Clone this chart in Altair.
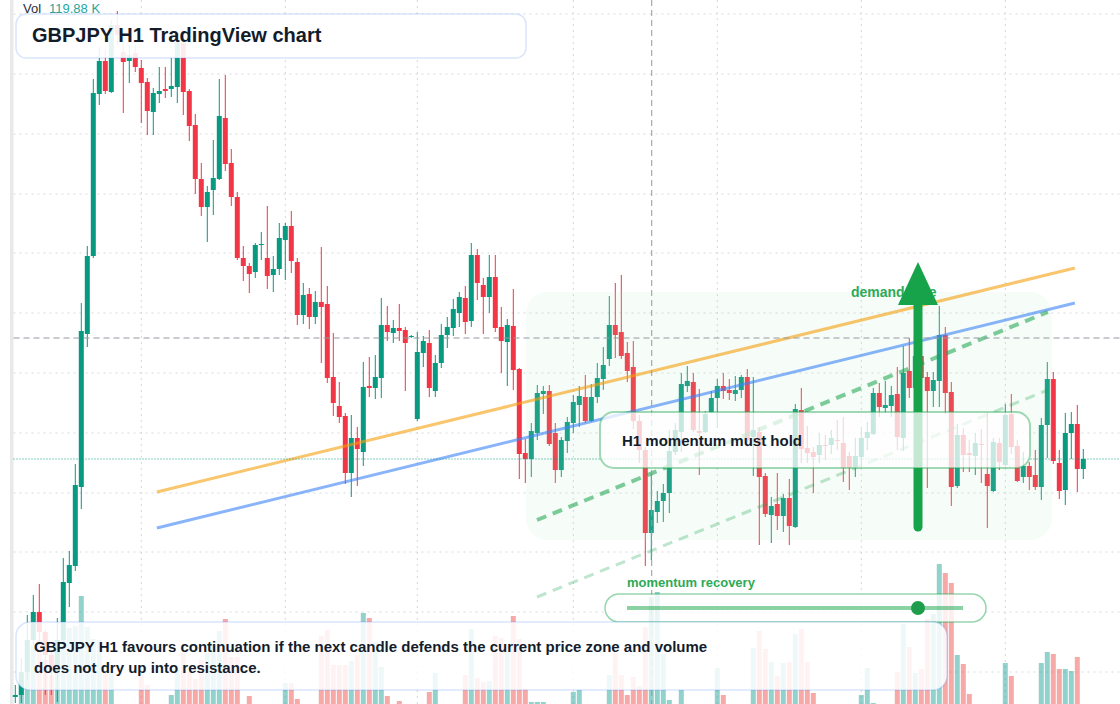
import altair as alt
import pandas as pd

# ---------------- data (GBPJPY, H1 candles) ----------------
opens = [194.03, 194.05, 194.28, 194.60, 194.88, 194.68, 194.45, 194.28, 194.60, 195.17,
         195.34, 196.13, 197.66, 198.44, 200.06, 200.39, 200.08, 200.75, 200.48, 200.39,
         200.47, 200.32, 200.18, 199.88, 200.06, 200.11, 200.11, 200.13, 200.57, 200.09,
         199.75, 199.21, 198.93, 199.10, 199.21, 199.82, 199.37, 199.03, 198.42, 198.34,
         198.28, 198.55, 198.42, 198.25, 198.31, 198.60, 198.74, 198.38, 197.85, 198.06,
         197.83, 197.98, 197.96, 197.23, 196.94, 196.84, 196.27, 196.62, 196.48, 197.14,
         197.12, 197.22, 197.75, 197.67, 197.72, 197.70, 197.63, 196.81, 197.47, 197.57,
         197.09, 197.37, 197.65, 197.72, 197.87, 198.02, 197.79, 198.45, 198.15, 198.03,
         198.23, 197.73, 197.58, 197.74, 197.31, 196.47, 196.41, 196.67, 197.06, 197.09,
         196.67, 196.30, 196.59, 196.77, 196.95, 197.03, 196.79, 197.03, 197.21, 197.41,
         197.75, 197.68, 197.47, 197.33, 196.79, 196.50, 195.67, 195.88, 195.99, 196.07,
         196.48, 196.68, 197.14, 197.18, 196.69, 196.68, 196.88, 197.02, 197.14, 197.10,
         197.06, 197.10, 197.23, 196.63, 196.68, 196.24, 195.85, 195.96, 195.84, 196.02,
         195.73, 196.90, 196.52, 196.48, 196.45, 196.55, 196.55, 196.60, 196.57, 196.44,
         196.33, 196.43, 196.62, 196.66, 197.07, 196.92, 196.94, 197.06, 196.62, 197.29,
         197.12, 197.44, 197.23, 197.09, 197.19, 197.65, 197.08, 196.14, 196.65, 196.47,
         196.44, 196.56, 196.26, 196.09, 196.57, 196.35, 196.86, 196.54, 196.23, 196.34,
         196.25, 196.13, 196.75, 197.21, 196.37, 196.10, 196.67, 196.76, 196.31]
highs = [194.15, 194.42, 194.85, 195.05, 195.16, 194.70, 194.50, 194.82, 195.42, 195.49,
         196.36, 197.97, 198.54, 200.21, 200.53, 200.50, 200.80, 200.89, 200.60, 200.55,
         200.55, 200.40, 200.22, 200.12, 200.33, 200.33, 200.42, 200.67, 200.65, 200.11,
         199.86, 199.37, 199.14, 199.60, 200.21, 200.25, 199.51, 199.08, 198.54, 198.37,
         198.57, 198.68, 198.94, 198.44, 198.77, 198.77, 198.89, 198.42, 198.17, 198.12,
         198.09, 198.53, 198.14, 197.67, 197.18, 196.87, 196.85, 196.73, 197.38, 197.43,
         197.45, 198.02, 197.94, 197.80, 197.96, 197.73, 197.65, 197.68, 197.64, 197.70,
         197.45, 197.76, 197.83, 198.01, 198.08, 198.14, 198.57, 198.51, 198.22, 198.45,
         198.45, 197.93, 197.81, 198.11, 197.32, 196.61, 196.77, 197.15, 197.14, 197.15,
         196.77, 196.63, 196.83, 197.05, 197.14, 197.25, 197.16, 197.37, 197.53, 198.04,
         198.17, 198.25, 197.58, 197.59, 196.85, 196.53, 196.27, 196.09, 196.16, 196.70,
         196.77, 197.27, 197.34, 197.27, 197.11, 196.89, 197.09, 197.21, 197.27, 197.21,
         197.24, 197.25, 197.31, 197.23, 196.73, 196.27, 196.03, 196.27, 196.06, 196.21,
         196.96, 197.12, 196.74, 196.53, 196.67, 196.65, 196.70, 196.80, 196.83, 196.48,
         196.62, 196.73, 196.78, 197.12, 197.17, 197.19, 197.14, 197.33, 197.54, 197.62,
         197.60, 197.55, 197.28, 197.28, 197.94, 197.73, 197.18, 196.76, 196.72, 196.60,
         196.67, 196.71, 196.87, 196.62, 196.62, 196.96, 197.06, 196.60, 196.48, 196.38,
         196.50, 196.82, 197.38, 197.28, 196.50, 196.87, 196.88, 196.95, 196.51]
lows = [193.97, 193.97, 194.20, 194.55, 194.55, 194.05, 194.05, 193.98, 194.55, 194.93,
        195.29, 195.91, 197.53, 198.42, 199.95, 200.06, 200.07, 200.55, 199.87, 200.17,
        200.28, 199.77, 199.65, 199.65, 199.97, 200.02, 200.03, 199.97, 199.85, 199.59,
        199.06, 198.84, 198.58, 198.85, 199.20, 199.29, 198.94, 198.40, 198.19, 198.07,
        198.22, 198.40, 198.11, 198.08, 198.25, 198.20, 198.27, 197.75, 197.76, 197.71,
        197.76, 197.37, 197.17, 196.84, 196.77, 196.16, 196.03, 196.14, 196.34, 197.03,
        197.01, 197.02, 197.59, 197.57, 197.59, 197.09, 197.62, 196.79, 197.33, 197.03,
        197.03, 197.32, 197.52, 197.64, 197.73, 197.66, 197.73, 198.00, 197.66, 197.87,
        197.68, 197.27, 197.14, 197.10, 196.21, 196.17, 196.23, 196.60, 196.86, 196.54,
        196.17, 196.23, 196.47, 196.67, 196.73, 196.77, 196.78, 196.97, 197.10, 197.34,
        197.42, 197.41, 197.18, 196.71, 196.37, 195.34, 195.40, 195.77, 195.78, 195.87,
        196.45, 196.48, 197.08, 196.68, 196.25, 196.67, 196.87, 196.72, 197.01, 197.00,
        196.99, 197.02, 196.53, 196.24, 195.55, 195.83, 195.57, 195.70, 195.68, 195.55,
        195.72, 196.37, 196.37, 196.07, 196.37, 196.40, 196.46, 196.50, 196.18, 196.10,
        196.23, 196.33, 196.50, 196.65, 196.83, 196.87, 196.83, 196.50, 196.49, 197.02,
        197.02, 196.95, 196.12, 196.93, 196.93, 196.86, 195.94, 196.12, 196.28, 196.28,
        196.25, 196.17, 195.72, 196.08, 196.30, 196.33, 196.46, 196.18, 196.17, 196.10,
        196.10, 196.00, 196.42, 196.36, 196.01, 195.95, 196.41, 196.08, 196.21]
closes = [194.05, 194.28, 194.60, 194.88, 194.68, 194.45, 194.30, 194.60, 195.18, 195.35,
          196.15, 197.69, 198.44, 200.07, 200.39, 200.09, 200.75, 200.65, 200.38, 200.45,
          200.33, 200.17, 199.89, 200.07, 200.09, 200.09, 200.14, 200.58, 200.08, 199.74,
          199.21, 198.93, 199.08, 199.22, 199.84, 199.36, 199.03, 198.42, 198.34, 198.26,
          198.55, 198.56, 198.24, 198.31, 198.62, 198.74, 198.39, 197.85, 198.05, 197.83,
          197.98, 197.93, 197.22, 196.97, 196.83, 196.27, 196.62, 196.51, 197.13, 197.12,
          197.23, 197.75, 197.68, 197.72, 197.69, 197.57, 197.64, 197.48, 197.59, 197.12,
          197.37, 197.65, 197.73, 197.91, 198.03, 197.78, 198.45, 198.17, 198.03, 198.23,
          197.72, 197.59, 197.75, 197.30, 196.46, 196.41, 196.69, 197.07, 197.09, 196.56,
          196.30, 196.60, 196.78, 196.98, 197.04, 196.79, 197.03, 197.22, 197.35, 197.75,
          197.65, 197.44, 197.29, 196.79, 196.50, 195.67, 195.90, 195.99, 196.07, 196.49,
          196.70, 197.16, 197.19, 196.70, 196.67, 196.86, 197.02, 197.14, 197.09, 197.07,
          197.10, 197.23, 196.60, 196.70, 196.23, 195.86, 195.94, 195.84, 196.02, 195.74,
          196.91, 196.51, 196.47, 196.43, 196.55, 196.54, 196.62, 196.59, 196.32, 196.32,
          196.44, 196.62, 196.68, 197.07, 196.93, 196.95, 197.05, 196.63, 197.27, 197.12,
          197.44, 197.22, 197.09, 197.20, 197.65, 197.07, 196.13, 196.65, 196.45, 196.45,
          196.57, 196.55, 196.14, 196.58, 196.38, 196.85, 196.53, 196.19, 196.34, 196.23,
          196.13, 196.75, 197.21, 196.39, 196.09, 196.67, 196.76, 196.31, 196.41]
volumes_k = [0, 24, 64, 59, 64, 44, 29, 54, 64, 76,
             78, 108, 77, 65, 64, 31, 31, 0, 0, 0,
             0, 31, 19, 0, 0, 0, 9, 34, 51, 32,
             25, 44, 51, 59, 73, 85, 47, 47, 0, 8,
             0, 0, 0, 0, 0, 21, 21, 5, 0, 0,
             0, 68, 74, 39, 39, 39, 43, 49, 91, 86,
             62, 37, 8, 0, 3, 0, 0, 0, 0, 12,
             31, 0, 0, 0, 0, 29, 75, 26, 22, 23,
             68, 66, 53, 88, 65, 15, 2, 2, 2, 0,
             0, 0, 0, 12, 14, 0, 0, 0, 0, 29,
             51, 29, 9, 27, 18, 77, 107, 112, 50, 4,
             0, 14, 0, 0, 0, 0, 0, 36, 9, 0,
             0, 0, 0, 56, 73, 55, 42, 28, 41, 42,
             70, 75, 42, 11, 0, 0, 0, 0, 0, 0,
             0, 9, 36, 1, 0, 0, 0, 32, 80, 57,
             31, 35, 85, 90, 140, 131, 121, 49, 40, 10,
             0, 0, 0, 0, 0, 41, 28, 0, 0, 0,
             0, 41, 52, 50, 35, 35, 33, 47, 0]

grid_prices = [200.86, 200.26, 199.66, 199.06, 198.47, 197.87, 197.27, 196.67,
               196.07, 195.48, 194.88, 194.28]
grid_bars = [21, 45, 67, 93, 117, 141, 165]
cross_bar = [106.07]
cross_price = [197.62]
last_price = [196.41]

orange_bar = [23.6, 176.6]
orange_price = [196.08, 198.32]
blue_bar = [23.6, 176.6]
blue_price = [195.72, 197.97]
green_bar = [86.95, 172.1]
green_price = [195.80, 197.88]
green2_bar = [86.95, 172.1]
green2_price = [195.03, 197.10]
arrow_bar = [150.45]
arrow_tail = [195.73]
arrow_neck = [198.00]
arrow_mid = [198.165]

# ---------------- frames ----------------
n = len(opens)
df = pd.DataFrame({"bar": list(range(n)), "open": opens, "high": highs,
                   "low": lows, "close": closes, "vol": volumes_k})
df["dir"] = ["up" if c >= o else "down" for o, c in zip(opens, closes)]
up = df[df["dir"] == "up"]
dn = df[df["dir"] == "down"]
vup = up[up["vol"] > 0]
vdn = dn[dn["vol"] > 0]

one = pd.DataFrame({"a": [0]})

XS = alt.Scale(domain=[-2.55, 184.117], nice=False, zero=False, padding=0)
YS = alt.Scale(domain=[193.96, 201.0], nice=False, zero=False, padding=0)
VS = alt.Scale(domain=[0, 704], nice=False, zero=False, padding=0)

UP = "#089981"
DN = "#f23645"
GREEN = "#16a34a"
FONT = "Liberation Sans"


def X(f):
    return alt.X(f"{f}:Q", scale=XS, axis=None)


def Y(f):
    return alt.Y(f"{f}:Q", scale=YS, axis=None)


def seg(bars, prices, color, width, opacity, dash=None):
    d = pd.DataFrame({"b1": [bars[0]], "b2": [bars[1]], "p1": [prices[0]], "p2": [prices[1]]})
    kw = dict(color=color, strokeWidth=width, opacity=opacity)
    if dash:
        kw["strokeDash"] = dash
    return alt.Chart(d).mark_rule(**kw).encode(
        x=X("b1"), x2="b2", y=Y("p1"), y2="p2")


def box(x1, y1, x2, y2, radius, fill, fill_op, stroke, stroke_op, sw):
    return alt.Chart(one).mark_rect(
        cornerRadius=radius, fill=fill, fillOpacity=fill_op, stroke=stroke,
        strokeOpacity=stroke_op, strokeWidth=sw).encode(
        x=alt.value(x1), x2=alt.value(x2), y=alt.value(y1), y2=alt.value(y2))


def label(x, y, txt, size, color, weight="bold", align="left"):
    return alt.Chart(one).mark_text(
        align=align, baseline="middle", fontSize=size, fontWeight=weight,
        font=FONT, color=color).encode(
        x=alt.value(x), y=alt.value(y), text=alt.value(txt))


layers = []

# left strip
layers.append(alt.Chart(one).mark_rect(color="#e9e9e9").encode(
    x=alt.value(10), x2=alt.value(13.5), y=alt.value(0), y2=alt.value(704)))

# grid
gp = pd.DataFrame({"p": grid_prices})
layers.append(alt.Chart(gp).mark_rule(color="#d6d8dd", strokeDash=[2, 4], strokeWidth=1).encode(
    y=Y("p"), x=alt.value(13.5), x2=alt.value(1120)))
gb = pd.DataFrame({"b": grid_bars})
layers.append(alt.Chart(gb).mark_rule(color="#d6d8dd", strokeDash=[2, 4], strokeWidth=1).encode(
    x=X("b"), y=alt.value(0), y2=alt.value(704)))

# volume
for vd, col in ((vup, "#26a69a"), (vdn, "#ef5350")):
    layers.append(alt.Chart(vd).mark_bar(size=5, color=col, opacity=0.5).encode(
        x=X("bar"), y=alt.Y("vol:Q", scale=VS, axis=None), y2=alt.datum(0)))

# candles
for cd, col in ((up, UP), (dn, DN)):
    layers.append(alt.Chart(cd).mark_rule(color=col, strokeWidth=1).encode(
        x=X("bar"), y=Y("low"), y2="high"))
    layers.append(alt.Chart(cd).mark_bar(size=5, color=col).encode(
        x=X("bar"), y=Y("open"), y2="close"))

# highlighted demand zone (translucent wash over the candles)
layers.append(box(526, 292, 1052, 540, 22, "#b4e6be", 0.12, GREEN, 0.0, 0))

# trend lines
layers.append(seg(orange_bar, orange_price, "#f59e0b", 3, 0.6))
layers.append(seg(blue_bar, blue_price, "#3b82f6", 3, 0.6))
layers.append(seg(green_bar, green_price, GREEN, 4, 0.55, [10, 7]))
layers.append(seg(green2_bar, green2_price, GREEN, 3, 0.28, [10, 7]))

# crosshair and last price
layers.append(alt.Chart(pd.DataFrame({"b": cross_bar})).mark_rule(
    color="#9598a1", strokeDash=[6, 4], strokeWidth=1).encode(
    x=X("b"), y=alt.value(0), y2=alt.value(704)))
layers.append(alt.Chart(pd.DataFrame({"p": cross_price})).mark_rule(
    color="#9598a1", strokeDash=[6, 4], strokeWidth=1).encode(
    y=Y("p"), x=alt.value(13.5), x2=alt.value(1120)))
layers.append(alt.Chart(pd.DataFrame({"p": last_price})).mark_rule(
    color=UP, strokeDash=[1, 2], strokeWidth=1).encode(
    y=Y("p"), x=alt.value(13.5), x2=alt.value(1120)))

# demand side label + arrow
layers.append(label(851, 293, "demand side", 14, "#2eaa57"))
ad = pd.DataFrame({"b": arrow_bar, "t": arrow_tail, "n": arrow_neck, "m": arrow_mid})
layers.append(alt.Chart(ad).mark_rule(color=GREEN, strokeWidth=9, strokeCap="round").encode(
    x=X("b"), y=Y("t"), y2="n"))
layers.append(alt.Chart(ad).mark_point(
    shape="M0,-1.075L1,1.075L-1,1.075Z", filled=True, size=1600, color=GREEN,
    opacity=1, strokeWidth=0).encode(x=X("b"), y=Y("m")))

# H1 momentum box
layers.append(box(600, 412, 1030, 468, 14, "white", 0.75, GREEN, 0.4, 2))
layers.append(label(622, 441, "H1 momentum must hold", 15, "#131c2b"))

# momentum recovery gauge
layers.append(label(627, 583, "momentum recovery", 13, "#2eaa57"))
layers.append(box(605, 594, 986, 622, 14, "white", 0.8, GREEN, 0.45, 1.5))
layers.append(alt.Chart(one).mark_rule(color=GREEN, opacity=0.5, strokeWidth=4).encode(
    x=alt.value(627), x2=alt.value(963), y=alt.value(608)))
layers.append(alt.Chart(one).mark_point(filled=True, size=196, color="#1f9d4c", opacity=1,
                                         shape="circle").encode(
    x=alt.value(918), y=alt.value(608)))

# bottom commentary box
layers.append(box(16, 622, 947, 690, 14, "white", 0.85, "#3b82f6", 0.2, 1.5))
layers.append(label(34, 647, "GBPJPY H1 favours continuation if the next candle defends the current price zone and volume", 15, "#131c2b"))
layers.append(label(34, 668, "does not dry up into resistance.", 15, "#131c2b"))

# title box
layers.append(box(16, 14, 526, 58, 10, "white", 0.9, "#3b82f6", 0.2, 1.5))
layers.append(label(32, 36, "GBPJPY H1 TradingView chart", 20, "#131c2b"))

# volume legend
layers.append(label(23, 9, "Vol", 13, "#2a2e39", weight="normal"))
layers.append(label(49, 9, "119.88 K", 13, "#26a69a", weight="normal"))

chart = alt.layer(*layers).resolve_scale(y="independent").properties(
    width=1120, height=704, autosize=alt.AutoSizeParams(type="none"), padding=0,
    background="white"
).configure_view(stroke=None)

chart.save("out.html", embed_options={"renderer": "svg", "actions": False})
